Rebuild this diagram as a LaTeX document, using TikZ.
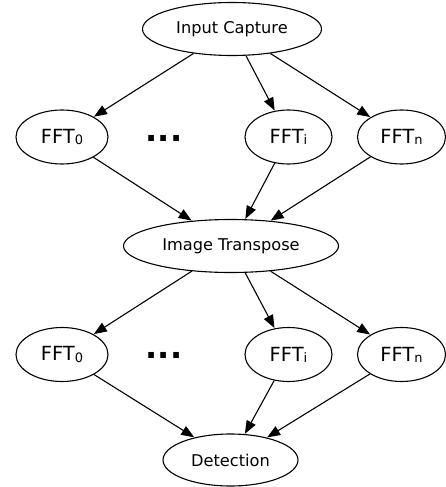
\documentclass[tikz,border=0pt]{standalone}
\usepackage{fontspec}
\setmainfont{DejaVu Sans}
\usetikzlibrary{shapes.geometric,arrows.meta}
\tikzset{
  proc/.style={draw, ellipse, line width=1.1pt, inner sep=0pt, minimum height=53pt, font=\fontsize{16.2}{17}\selectfont},
  fft/.style={proc, font=\fontsize{19.5}{20}\selectfont},
  edge/.style={line width=1.1pt, -{Triangle[length=13pt,width=10pt]}, shorten >=0.3pt},
  dotsnode/.style={inner sep=0pt, font=\fontsize{32}{32}\selectfont\bfseries}
}
\newcommand{\fftsub}[1]{FFT\raisebox{-1.2pt}{\fontsize{13}{13}\selectfont #1}}
\begin{document}
\begin{tikzpicture}[x=1pt,y=-1pt]
\useasboundingbox (0,0) rectangle (446,487);
\node[proc, minimum width=179pt] (in) at (232,29) {Input Capture};
\node[fft, minimum width=92pt, minimum height=54pt] (a0) at (62,137) {\fftsub{0}};
\node[fft, minimum width=87pt, minimum height=54pt] (ai) at (288.5,137) {\fftsub{i}};
\node[fft, minimum width=88pt, minimum height=54pt] (an) at (401.5,137) {\fftsub{n}};
\node[dotsnode] (d1) at (164,138) {...};
\node[proc, minimum width=215pt] (it) at (231,246) {Image Transpose};
\node[fft, minimum width=92pt, minimum height=54pt] (b0) at (62,354.5) {\fftsub{0}};
\node[fft, minimum width=87pt, minimum height=54pt] (bi) at (288.5,354.5) {\fftsub{i}};
\node[fft, minimum width=88pt, minimum height=54pt] (bn) at (401.5,354.5) {\fftsub{n}};
\node[dotsnode] (d2) at (164,355.5) {...};
\node[proc, minimum width=135pt, minimum height=52pt] (det) at (230.5,460) {Detection};
\draw[edge] (in) -- (a0);
\draw[edge] (in) -- (ai);
\draw[edge] (in) -- (an);
\draw[edge] (a0) -- (it);
\draw[edge] (ai) -- (it);
\draw[edge] (an) -- (it);
\draw[edge] (it) -- (b0);
\draw[edge] (it) -- (bi);
\draw[edge] (it) -- (bn);
\draw[edge] (b0) -- (det);
\draw[edge] (bi) -- (det);
\draw[edge] (bn) -- (det);
\end{tikzpicture}
\end{document}
